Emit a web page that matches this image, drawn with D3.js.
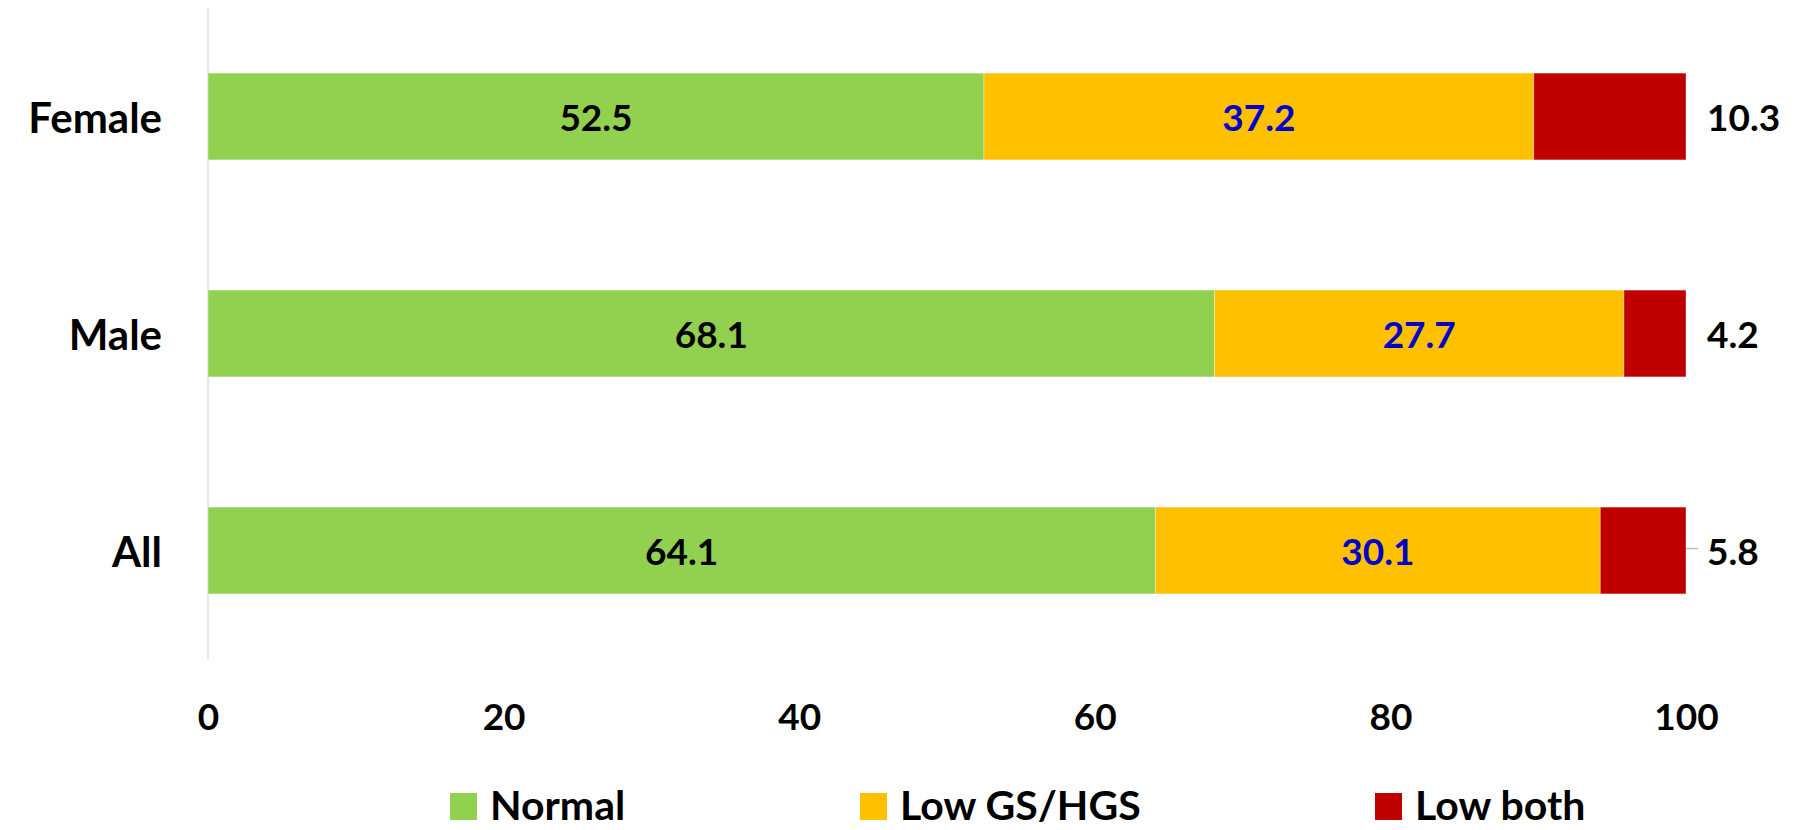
<!DOCTYPE html>
<html>
<head>
<meta charset="utf-8">
<script src="https://cdn.jsdelivr.net/npm/d3@7"></script>
<style>
  html, body { margin: 0; padding: 0; background: #ffffff; }
  svg { display: block; }
  text { font-family: Lato, "Open Sans", sans-serif; font-weight: 700; }
</style>
</head>
<body>
<svg id="chart" width="1799" height="830"></svg>
<script>
// Groups, top to bottom
const categories = ["Female", "Male", "All"];
// Series (percent)
const seriesNames = ["Normal", "Low GS/HGS", "Low both"];
const normal = [52.5, 68.1, 64.1];
const lowGS = [37.2, 27.7, 30.1];
const lowBoth = [10.3, 4.2, 5.8];
const xTicks = [0, 20, 40, 60, 80, 100];

const colors = ["#92D050", "#FFC000", "#C00000"];
const labelColors = ["#000000", "#0000CC", "#000000"];

const rows = categories.map((c, i) => ({
  category: c,
  "Normal": normal[i],
  "Low GS/HGS": lowGS[i],
  "Low both": lowBoth[i]
}));

const svg = d3.select("#chart");
const plot = { left: 208, right: 1686, top: 8, bottom: 659 };

const x = d3.scaleLinear().domain([0, 100]).range([plot.left, plot.right]);
const y = d3.scaleBand().domain(categories).range([plot.top, plot.bottom])
  .paddingInner(0.6).paddingOuter(0.3);

const stacked = d3.stack().keys(seriesNames)(rows);

// vertical category axis line
svg.append("line")
  .attr("x1", x(0)).attr("x2", x(0))
  .attr("y1", plot.top).attr("y2", plot.bottom)
  .attr("stroke", "#D9DDE6").attr("stroke-width", 1.5);

// stacked bars
const layers = svg.append("g").selectAll("g")
  .data(stacked).join("g")
  .attr("fill", (d, i) => colors[i]);

layers.selectAll("rect")
  .data(d => d)
  .join("rect")
  .attr("x", d => x(d[0]))
  .attr("width", d => x(d[1]) - x(d[0]))
  .attr("y", d => y(d.data.category))
  .attr("height", y.bandwidth())
  .attr("stroke", "#ffffff")
  .attr("stroke-opacity", 0.35)
  .attr("stroke-width", 1);

// value labels inside the first two segments
stacked.slice(0, 2).forEach((layer, li) => {
  svg.append("g").selectAll("text")
    .data(layer).join("text")
    .attr("x", d => (x(d[0]) + x(d[1])) / 2)
    .attr("y", d => y(d.data.category) + y.bandwidth() / 2)
    .attr("text-anchor", "middle")
    .attr("dominant-baseline", "central")
    .attr("font-size", 37)
    .attr("fill", labelColors[li])
    .text(d => (d[1] - d[0]).toFixed(1));
});

// "Low both" labels outside the bar end
const last = stacked[2];
svg.append("g").selectAll("text")
  .data(last).join("text")
  .attr("x", d => x(d[1]) + 21)
  .attr("y", d => y(d.data.category) + y.bandwidth() / 2)
  .attr("text-anchor", "start")
  .attr("dominant-baseline", "central")
  .attr("font-size", 37)
  .attr("fill", "#000000")
  .text(d => (d[1] - d[0]).toFixed(1));

// leader line for the "All" label
const allSeg = last[2];
svg.append("line")
  .attr("x1", x(allSeg[1])).attr("x2", x(allSeg[1]) + 12)
  .attr("y1", y("All") + y.bandwidth() / 2 - 2)
  .attr("y2", y("All") + y.bandwidth() / 2 - 2)
  .attr("stroke", "#B4BFCC").attr("stroke-width", 1.5);

// category labels
svg.append("g").selectAll("text")
  .data(categories).join("text")
  .attr("x", 162)
  .attr("y", d => y(d) + y.bandwidth() / 2)
  .attr("text-anchor", "end")
  .attr("dominant-baseline", "central")
  .attr("font-size", 42)
  .attr("fill", "#000000")
  .text(d => d);

// x axis tick labels (no axis line)
const xAxis = d3.axisBottom(x).tickValues(xTicks).tickSize(0).tickPadding(0);
const gx = svg.append("g").attr("transform", `translate(0, 715)`).call(xAxis);
gx.select(".domain").remove();
gx.selectAll("text")
  .attr("dy", null).attr("y", 0)
  .attr("dominant-baseline", "central")
  .attr("font-family", "Lato, 'Open Sans', sans-serif")
  .attr("font-weight", 700)
  .attr("font-size", 37)
  .attr("fill", "#000000");

// legend
const legendX = [450, 860, 1375];
const lg = svg.append("g").selectAll("g")
  .data(seriesNames).join("g")
  .attr("transform", (d, i) => `translate(${legendX[i]}, 793)`);
lg.append("rect")
  .attr("width", 27).attr("height", 27)
  .attr("fill", (d, i) => colors[i]);
lg.append("text")
  .attr("x", 40).attr("y", 27)
  .attr("font-size", 41)
  .attr("fill", "#000000")
  .text(d => d);
</script>
</body>
</html>
